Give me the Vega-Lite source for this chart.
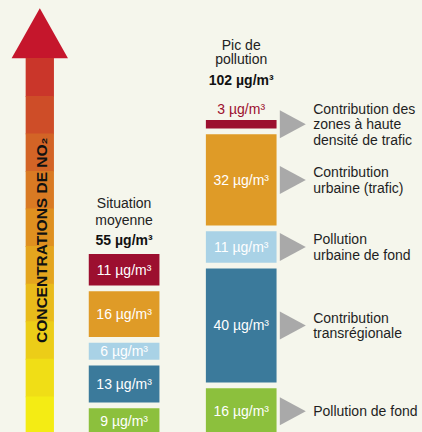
{
  "$schema": "https://vega.github.io/schema/vega-lite/v6.json",
  "width": 422,
  "height": 432,
  "autosize": "none",
  "padding": 0,
  "background": "#f5f6ec",
  "config": {
    "view": {"stroke": null},
    "text": {"font": "Liberation Sans", "fontSize": 14}
  },
  "datasets": {
    "sources": [
      {"colonne": "Situation\nmoyenne", "source": "Pollution de fond", "ordre": 1, "valeur": 9},
      {"colonne": "Situation\nmoyenne", "source": "Contribution\ntransrégionale", "ordre": 2, "valeur": 13},
      {"colonne": "Situation\nmoyenne", "source": "Pollution\nurbaine de fond", "ordre": 3, "valeur": 6},
      {"colonne": "Situation\nmoyenne", "source": "Contribution\nurbaine (trafic)", "ordre": 4, "valeur": 16},
      {"colonne": "Situation\nmoyenne", "source": "Contribution des\nzones à haute\ndensité de trafic", "ordre": 5, "valeur": 11},
      {"colonne": "Pic de\npollution", "source": "Pollution de fond", "ordre": 1, "valeur": 16},
      {"colonne": "Pic de\npollution", "source": "Contribution\ntransrégionale", "ordre": 2, "valeur": 40},
      {"colonne": "Pic de\npollution", "source": "Pollution\nurbaine de fond", "ordre": 3, "valeur": 11},
      {"colonne": "Pic de\npollution", "source": "Contribution\nurbaine (trafic)", "ordre": 4, "valeur": 32},
      {"colonne": "Pic de\npollution", "source": "Contribution des\nzones à haute\ndensité de trafic", "ordre": 5, "valeur": 3}
    ]
  },
  "data": {"name": "sources"},
  "transform": [
    {
      "window": [
        {"op": "sum", "field": "valeur", "as": "cumul"},
        {"op": "row_number", "as": "rang"}
      ],
      "groupby": ["colonne"],
      "sort": [{"field": "ordre", "order": "ascending"}],
      "frame": [null, 0]
    },
    {"calculate": "datum.cumul + 2 * (datum.rang - 1)", "as": "fin"},
    {"calculate": "datum.fin - datum.valeur", "as": "debut"},
    {"calculate": "datum.fin - datum.valeur / 2", "as": "milieu"},
    {"calculate": "datum.valeur + ' µg/m³'", "as": "etiquette"}
  ],
  "layer": [
    {
      "mark": {"type": "bar"},
      "encoding": {
        "x": {
          "field": "colonne",
          "type": "nominal",
          "axis": null,
          "scale": {
            "domain": ["Situation\nmoyenne", "Pic de\npollution"],
            "paddingInner": 0.3965,
            "paddingOuter": 1.057,
            "align": 0.379,
            "round": false
          }
        },
        "y": {
          "field": "debut",
          "type": "quantitative",
          "axis": null,
          "scale": {"domain": [0.7, 152], "nice": false, "zero": false}
        },
        "y2": {"field": "fin"},
        "color": {
          "field": "source",
          "type": "nominal",
          "legend": null,
          "scale": {
            "domain": [
              "Pollution de fond",
              "Contribution\ntransrégionale",
              "Pollution\nurbaine de fond",
              "Contribution\nurbaine (trafic)",
              "Contribution des\nzones à haute\ndensité de trafic"
            ],
            "range": ["#8cc03d", "#3b7a9b", "#a9d2e6", "#df9b27", "#9c0f2f"]
          }
        }
      }
    },
    {
      "transform": [{"filter": {"field": "colonne", "equal": "Situation\nmoyenne"}}, {"filter": "datum.rang == 5"}],
      "mark": {"type": "point", "filled": true, "opacity": 1, "strokeWidth": 0, "size": 181476, "xOffset": -84.3, "shape": "M0,-1L0.1322,-0.7653L-0.1322,-0.7653Z", "fill": "#c5162c"},
      "encoding": {"x": {"field": "colonne", "type": "nominal"}, "y": {"datum": 74.49, "type": "quantitative"}}
    },
    {
      "transform": [{"filter": {"field": "colonne", "equal": "Situation\nmoyenne"}}, {"filter": "datum.rang == 5"}],
      "mark": {"type": "point", "filled": true, "opacity": 1, "strokeWidth": 0, "size": 181476, "xOffset": -84.3, "shape": "M-0.0664,-0.767L0.0664,-0.767L0.0664,-0.5847L-0.0664,-0.5847Z", "fill": "#ca362a"},
      "encoding": {"x": {"field": "colonne", "type": "nominal"}, "y": {"datum": 74.49, "type": "quantitative"}}
    },
    {
      "transform": [{"filter": {"field": "colonne", "equal": "Situation\nmoyenne"}}, {"filter": "datum.rang == 5"}],
      "mark": {"type": "point", "filled": true, "opacity": 1, "strokeWidth": 0, "size": 181476, "xOffset": -84.3, "shape": "M-0.0664,-0.5887L0.0664,-0.5887L0.0664,-0.4087L-0.0664,-0.4087Z", "fill": "#ce4d28"},
      "encoding": {"x": {"field": "colonne", "type": "nominal"}, "y": {"datum": 74.49, "type": "quantitative"}}
    },
    {
      "transform": [{"filter": {"field": "colonne", "equal": "Situation\nmoyenne"}}, {"filter": "datum.rang == 5"}],
      "mark": {"type": "point", "filled": true, "opacity": 1, "strokeWidth": 0, "size": 181476, "xOffset": -84.3, "shape": "M-0.0664,-0.4127L0.0664,-0.4127L0.0664,-0.2322L-0.0664,-0.2322Z", "fill": "#d36426"},
      "encoding": {"x": {"field": "colonne", "type": "nominal"}, "y": {"datum": 74.49, "type": "quantitative"}}
    },
    {
      "transform": [{"filter": {"field": "colonne", "equal": "Situation\nmoyenne"}}, {"filter": "datum.rang == 5"}],
      "mark": {"type": "point", "filled": true, "opacity": 1, "strokeWidth": 0, "size": 181476, "xOffset": -84.3, "shape": "M-0.0664,-0.2362L0.0664,-0.2362L0.0664,-0.0556L-0.0664,-0.0556Z", "fill": "#d97a23"},
      "encoding": {"x": {"field": "colonne", "type": "nominal"}, "y": {"datum": 74.49, "type": "quantitative"}}
    },
    {
      "transform": [{"filter": {"field": "colonne", "equal": "Situation\nmoyenne"}}, {"filter": "datum.rang == 5"}],
      "mark": {"type": "point", "filled": true, "opacity": 1, "strokeWidth": 0, "size": 181476, "xOffset": -84.3, "shape": "M-0.0664,-0.0596L0.0664,-0.0596L0.0664,0.1204L-0.0664,0.1204Z", "fill": "#df9020"},
      "encoding": {"x": {"field": "colonne", "type": "nominal"}, "y": {"datum": 74.49, "type": "quantitative"}}
    },
    {
      "transform": [{"filter": {"field": "colonne", "equal": "Situation\nmoyenne"}}, {"filter": "datum.rang == 5"}],
      "mark": {"type": "point", "filled": true, "opacity": 1, "strokeWidth": 0, "size": 181476, "xOffset": -84.3, "shape": "M-0.0664,0.1164L0.0664,0.1164L0.0664,0.297L-0.0664,0.297Z", "fill": "#e4a51e"},
      "encoding": {"x": {"field": "colonne", "type": "nominal"}, "y": {"datum": 74.49, "type": "quantitative"}}
    },
    {
      "transform": [{"filter": {"field": "colonne", "equal": "Situation\nmoyenne"}}, {"filter": "datum.rang == 5"}],
      "mark": {"type": "point", "filled": true, "opacity": 1, "strokeWidth": 0, "size": 181476, "xOffset": -84.3, "shape": "M-0.0664,0.293L0.0664,0.293L0.0664,0.4735L-0.0664,0.4735Z", "fill": "#e9bb1b"},
      "encoding": {"x": {"field": "colonne", "type": "nominal"}, "y": {"datum": 74.49, "type": "quantitative"}}
    },
    {
      "transform": [{"filter": {"field": "colonne", "equal": "Situation\nmoyenne"}}, {"filter": "datum.rang == 5"}],
      "mark": {"type": "point", "filled": true, "opacity": 1, "strokeWidth": 0, "size": 181476, "xOffset": -84.3, "shape": "M-0.0664,0.4695L0.0664,0.4695L0.0664,0.6495L-0.0664,0.6495Z", "fill": "#eccd18"},
      "encoding": {"x": {"field": "colonne", "type": "nominal"}, "y": {"datum": 74.49, "type": "quantitative"}}
    },
    {
      "transform": [{"filter": {"field": "colonne", "equal": "Situation\nmoyenne"}}, {"filter": "datum.rang == 5"}],
      "mark": {"type": "point", "filled": true, "opacity": 1, "strokeWidth": 0, "size": 181476, "xOffset": -84.3, "shape": "M-0.0664,0.6455L0.0664,0.6455L0.0664,0.8261L-0.0664,0.8261Z", "fill": "#f0de16"},
      "encoding": {"x": {"field": "colonne", "type": "nominal"}, "y": {"datum": 74.49, "type": "quantitative"}}
    },
    {
      "transform": [{"filter": {"field": "colonne", "equal": "Situation\nmoyenne"}}, {"filter": "datum.rang == 5"}],
      "mark": {"type": "point", "filled": true, "opacity": 1, "strokeWidth": 0, "size": 181476, "xOffset": -84.3, "shape": "M-0.0664,0.8221L0.0664,0.8221L0.0664,1L-0.0664,1Z", "fill": "#f4ec14"},
      "encoding": {"x": {"field": "colonne", "type": "nominal"}, "y": {"datum": 74.49, "type": "quantitative"}}
    },
    {
      "transform": [{"filter": {"field": "colonne", "equal": "Situation\nmoyenne"}}, {"filter": "datum.rang == 5"}],
      "mark": {
        "type": "text",
        "font": "Liberation Sans",
        "fontWeight": "bold",
        "fontSize": 15.5,
        "angle": 270,
        "align": "left",
        "baseline": "middle",
        "xOffset": -82,
        "color": "#111111"
      },
      "encoding": {
        "x": {"field": "colonne", "type": "nominal"},
        "y": {"datum": 31.86, "type": "quantitative"},
        "text": {"value": "CONCENTRATIONS DE NO₂"}
      }
    },
    {
      "transform": [{"filter": "datum.valeur >= 5"}],
      "mark": {"type": "text", "color": "#ffffff", "baseline": "middle", "align": "center", "dy": 1},
      "encoding": {
        "x": {"field": "colonne", "type": "nominal"},
        "y": {"field": "milieu", "type": "quantitative"},
        "text": {"field": "etiquette"}
      }
    },
    {
      "transform": [{"filter": "datum.valeur < 5"}],
      "mark": {"type": "text", "baseline": "middle", "align": "center", "dy": -10},
      "encoding": {
        "x": {"field": "colonne", "type": "nominal"},
        "y": {"field": "fin", "type": "quantitative"},
        "text": {"field": "etiquette"},
        "color": {"field": "source", "type": "nominal", "legend": null}
      }
    },
    {
      "transform": [{"filter": {"field": "colonne", "equal": "Pic de\npollution"}}],
      "mark": {
        "type": "point",
        "shape": "M-0.929,-1L0.929,0L-0.929,1Z",
        "size": 784,
        "filled": true,
        "opacity": 1,
        "strokeWidth": 0,
        "fill": "#a9a9a9",
        "xOffset": 51.6
      },
      "encoding": {
        "x": {"field": "colonne", "type": "nominal"},
        "y": {"field": "milieu", "type": "quantitative"}
      }
    },
    {
      "transform": [
        {"filter": {"field": "colonne", "equal": "Pic de\npollution"}},
        {"calculate": "datum.milieu + (length(split(datum.source, '\\n')) - 1) * 2.7145", "as": "ylibelle"}
      ],
      "mark": {
        "type": "text",
        "align": "left",
        "baseline": "middle",
        "lineBreak": "\n",
        "lineHeight": 15.5,
        "xOffset": 72,
        "dy": 1,
        "color": "#1f1f1f"
      },
      "encoding": {
        "x": {"field": "colonne", "type": "nominal"},
        "y": {"field": "ylibelle", "type": "quantitative"},
        "text": {"field": "source"}
      }
    },
    {
      "transform": [
        {"filter": {"field": "colonne", "equal": "Situation\nmoyenne"}},
        {"aggregate": [{"op": "sum", "field": "valeur", "as": "total"}], "groupby": ["colonne"]}
      ],
      "mark": {"type": "text", "align": "center", "baseline": "middle", "lineBreak": "\n", "lineHeight": 16.7, "color": "#222222"},
      "encoding": {
        "x": {"field": "colonne", "type": "nominal"},
        "y": {"datum": 80.51, "type": "quantitative"},
        "text": {"field": "colonne"}
      }
    },
    {
      "transform": [
        {"filter": {"field": "colonne", "equal": "Situation\nmoyenne"}},
        {"aggregate": [{"op": "sum", "field": "valeur", "as": "total"}], "groupby": ["colonne"]},
        {"calculate": "datum.total + ' µg/m³'", "as": "texte"}
      ],
      "mark": {"type": "text", "align": "center", "baseline": "middle", "fontWeight": "bold", "color": "#111111"},
      "encoding": {
        "x": {"field": "colonne", "type": "nominal"},
        "y": {"datum": 67.76, "type": "quantitative"},
        "text": {"field": "texte"}
      }
    },
    {
      "transform": [
        {"filter": {"field": "colonne", "equal": "Pic de\npollution"}},
        {"aggregate": [{"op": "sum", "field": "valeur", "as": "total"}], "groupby": ["colonne"]}
      ],
      "mark": {"type": "text", "align": "center", "baseline": "middle", "lineBreak": "\n", "lineHeight": 14.7, "color": "#222222"},
      "encoding": {
        "x": {"field": "colonne", "type": "nominal"},
        "y": {"datum": 135.96, "type": "quantitative"},
        "text": {"field": "colonne"}
      }
    },
    {
      "transform": [
        {"filter": {"field": "colonne", "equal": "Pic de\npollution"}},
        {"aggregate": [{"op": "sum", "field": "valeur", "as": "total"}], "groupby": ["colonne"]},
        {"calculate": "datum.total + ' µg/m³'", "as": "texte"}
      ],
      "mark": {"type": "text", "align": "center", "baseline": "middle", "fontWeight": "bold", "color": "#111111"},
      "encoding": {
        "x": {"field": "colonne", "type": "nominal"},
        "y": {"datum": 123.63, "type": "quantitative"},
        "text": {"field": "texte"}
      }
    }
  ]
}
